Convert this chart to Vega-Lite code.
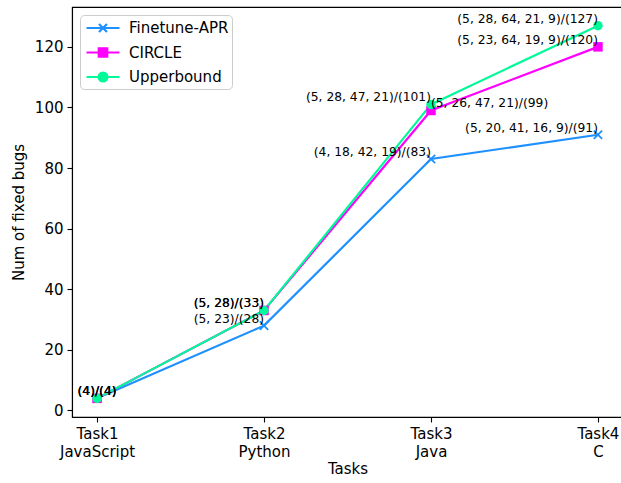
{
  "$schema": "https://vega.github.io/schema/vega-lite/v6.json",
  "autosize": "none",
  "padding": {"left": 72, "top": 7, "right": 0, "bottom": 66},
  "width": 551,
  "height": 410,
  "background": "white",
  "config": {
    "font": "DejaVu Sans",
    "view": {"stroke": "black", "strokeWidth": 1.1},
    "axis": {
      "grid": false,
      "domainColor": "black",
      "domainWidth": 1.1,
      "tickColor": "black",
      "tickSize": 5,
      "tickWidth": 1.1,
      "labelColor": "black",
      "labelFont": "DejaVu Sans",
      "labelFontSize": 15,
      "labelPadding": 4,
      "titleColor": "black",
      "titleFont": "DejaVu Sans",
      "titleFontSize": 15,
      "titleFontWeight": "normal"
    }
  },
  "data": {
    "values": [
      {"task": "Task1", "series": "Finetune-APR", "bugs": 4, "label": "(4)/(4)"},
      {"task": "Task2", "series": "Finetune-APR", "bugs": 28, "label": "(5, 23)/(28)"},
      {"task": "Task3", "series": "Finetune-APR", "bugs": 83, "label": "(4, 18, 42, 19)/(83)"},
      {"task": "Task4", "series": "Finetune-APR", "bugs": 91, "label": "(5, 20, 41, 16, 9)/(91)"},
      {"task": "Task1", "series": "CIRCLE", "bugs": 4, "label": "(4)/(4)"},
      {"task": "Task2", "series": "CIRCLE", "bugs": 33, "label": "(5, 28)/(33)"},
      {"task": "Task3", "series": "CIRCLE", "bugs": 99, "label": "(5, 26, 47, 21)/(99)"},
      {"task": "Task4", "series": "CIRCLE", "bugs": 120, "label": "(5, 23, 64, 19, 9)/(120)"},
      {"task": "Task1", "series": "Upperbound", "bugs": 4, "label": "(4)/(4)"},
      {"task": "Task2", "series": "Upperbound", "bugs": 33, "label": "(5, 28)/(33)"},
      {"task": "Task3", "series": "Upperbound", "bugs": 101, "label": "(5, 28, 47, 21)/(101)"},
      {"task": "Task4", "series": "Upperbound", "bugs": 127, "label": "(5, 28, 64, 21, 9)/(127)"}
    ]
  },
  "encoding": {
    "x": {
      "field": "task",
      "type": "ordinal",
      "scale": {"type": "point", "domain": ["Task1", "Task2", "Task3", "Task4"], "padding": 0.15},
      "axis": {
        "title": "Tasks",
        "labelAngle": 0,
        "labelLineHeight": 18,
        "titlePadding": 2,
        "labelExpr": "datum.value == 'Task1' ? ['Task1', 'JavaScript'] : datum.value == 'Task2' ? ['Task2', 'Python'] : datum.value == 'Task3' ? ['Task3', 'Java'] : ['Task4', 'C']"
      }
    },
    "y": {
      "field": "bugs",
      "type": "quantitative",
      "scale": {"domain": [-2.15, 133.15], "nice": false, "zero": false},
      "axis": {"title": "Num of fixed bugs", "values": [0, 20, 40, 60, 80, 100, 120], "titlePadding": 8}
    }
  },
  "resolve": {"legend": {"color": "independent"}},
  "layer": [
    {
      "mark": {"type": "line", "strokeWidth": 2.2},
      "encoding": {
        "color": {
          "field": "series",
          "type": "nominal",
          "scale": {"domain": ["Finetune-APR", "CIRCLE", "Upperbound"], "range": ["#1E90FF", "#FF00FF", "#00FA9A"]},
          "legend": {
            "title": null,
            "orient": "none",
            "legendX": 8,
            "legendY": 8,
            "fillColor": "white",
            "strokeColor": "#cccccc",
            "cornerRadius": 4,
            "padding": 3,
            "labelFont": "DejaVu Sans",
            "labelFontSize": 15,
            "labelColor": "black",
            "labelOffset": 16,
            "rowPadding": 5.5,
            "symbolSize": 289,
            "symbolOffset": 10,
            "symbolStrokeWidth": 2.2,
            "encode": {
              "symbols": {
                "update": {
                  "shape": {"signal": "datum.value === 'Finetune-APR' ? 'M-1.94,0H1.94M-0.47,-0.47L0.47,0.47M-0.47,0.47L0.47,-0.47' : datum.value === 'CIRCLE' ? 'M-1.94,0H1.94M-0.5,-0.5H0.5V0.5H-0.5Z' : 'M-1.94,0H1.94M0.52,0A0.52,0.52 0 1,1 -0.52,0A0.52,0.52 0 1,1 0.52,0Z'"},
                  "fill": {"signal": "datum.value === 'Finetune-APR' ? 'transparent' : scale('color', datum.value)"},
                  "stroke": {"signal": "scale('color', datum.value)"},
                  "strokeWidth": {"value": 2.2},
                  "opacity": {"value": 1}
                }
              }
            }
          }
        }
      }
    },
    {
      "transform": [{"filter": "datum.series === 'Finetune-APR'"}],
      "mark": {"type": "point", "filled": false, "shape": "M-1,-1L1,1M-1,1L1,-1", "size": 70, "strokeWidth": 1.8, "opacity": 1},
      "encoding": {
        "color": {"field": "series", "type": "nominal", "legend": null}
      }
    },
    {
      "transform": [{"filter": "datum.series !== 'Finetune-APR'"}],
      "mark": {"type": "point", "filled": true, "size": 90, "opacity": 1},
      "encoding": {
        "color": {"field": "series", "type": "nominal", "legend": null},
        "shape": {
          "field": "series",
          "type": "nominal",
          "scale": {"domain": ["CIRCLE", "Upperbound"], "range": ["square", "circle"]},
          "legend": null
        }
      }
    },
    {
      "transform": [{"filter": "datum.task === 'Task1'"}],
      "mark": {"type": "text", "align": "center", "baseline": "alphabetic", "dy": -3, "fontSize": 12.3, "font": "DejaVu Sans", "color": "black"},
      "encoding": {"text": {"field": "label"}}
    },
    {
      "transform": [{"filter": "datum.task !== 'Task1' && !(datum.series === 'CIRCLE' && datum.task === 'Task3')"}],
      "mark": {"type": "text", "align": "right", "baseline": "alphabetic", "dy": -3, "fontSize": 12.3, "font": "DejaVu Sans", "color": "black"},
      "encoding": {"text": {"field": "label"}}
    },
    {
      "transform": [{"filter": "datum.series === 'CIRCLE' && datum.task === 'Task3'"}],
      "mark": {"type": "text", "align": "left", "baseline": "alphabetic", "dy": -3, "fontSize": 12.3, "font": "DejaVu Sans", "color": "black"},
      "encoding": {"text": {"field": "label"}}
    }
  ]
}
